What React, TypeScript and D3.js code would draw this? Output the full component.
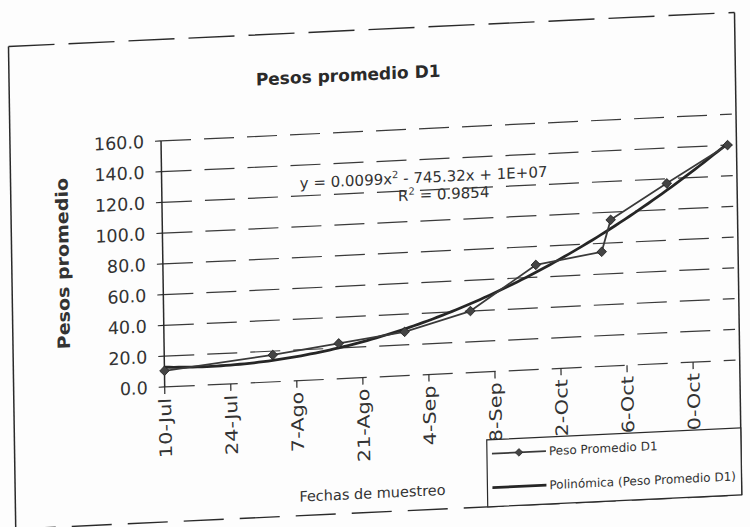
import React from "react";
import * as d3 from "d3";

// ---------- data ----------
const sampleDates = [
  "2003-07-10", "2003-08-02", "2003-08-16", "2003-08-30", "2003-09-13",
  "2003-09-27", "2003-10-11", "2003-10-13", "2003-10-25", "2003-11-07",
];
const pesoPromedio = [10.5, 17.5, 23, 28.5, 40, 68, 74.5, 95, 117, 140];
const xTickLabels = ["10-Jul", "24-Jul", "7-Ago", "21-Ago", "4-Sep", "18-Sep", "2-Oct", "16-Oct", "30-Oct"];
const yTickValues = [0, 20, 40, 60, 80, 100, 120, 140, 160];
const axisStart = "2003-07-10";
const axisEnd = "2003-11-08";
const tickStepDays = 14;

const chartTitle = "Pesos promedio D1";
const yAxisTitle = "Pesos promedio";
const xAxisTitle = "Fechas de muestreo";
const seriesName = "Peso Promedio D1";
const trendName = "Polinómica (Peso Promedio D1)";
const eqParts = ["y = 0.0099x", "2", " - 745.32x + 1E+07"];
const r2Parts = ["R", "2", " = 0.9854"];

// ---------- layout ----------
const W = 750;
const H = 527;
const FONT = "'DejaVu Sans', Arial, sans-serif";
const plot = { left: 163, right: 733.8, top: 131, bottom: 377 };
const frame = { left: 12, right: 738, top: 29.5, bottom: 512 };
const legend = { left: 484, right: 738, top: 445, bottom: 512 };
const ink = "#2a2a2a";

function quadFit(t: number[], v: number[]) {
  const S = [0, 0, 0, 0, 0];
  const T = [0, 0, 0];
  t.forEach((ti, i) => {
    for (let k = 0; k < 5; k++) S[k] += Math.pow(ti, k);
    for (let k = 0; k < 3; k++) T[k] += Math.pow(ti, k) * v[i];
  });
  const A = [
    [S[4], S[3], S[2], T[2]],
    [S[3], S[2], S[1], T[1]],
    [S[2], S[1], S[0], T[0]],
  ];
  for (let c = 0; c < 3; c++) {
    for (let r = c + 1; r < 3; r++) {
      const f = A[r][c] / A[c][c];
      for (let k = c; k < 4; k++) A[r][k] -= f * A[c][k];
    }
  }
  const sol = [0, 0, 0];
  for (let r = 2; r >= 0; r--) {
    let s = A[r][3];
    for (let k = r + 1; k < 3; k++) s -= A[r][k] * sol[k];
    sol[r] = s / A[r][r];
  }
  return sol; // a, b, c
}

export default function App() {
  const parse = d3.timeParse("%Y-%m-%d");
  const start = parse(axisStart) as Date;
  const end = parse(axisEnd) as Date;
  const dates = sampleDates.map((s) => parse(s) as Date);

  const x = d3.scaleTime().domain([start, end]).range([plot.left, plot.right]);
  const y = d3.scaleLinear().domain([0, 160]).range([plot.bottom, plot.top]);

  const tickDates = xTickLabels.map((_, i) => d3.timeDay.offset(start, i * tickStepDays));

  const days = dates.map((d) => d3.timeDay.count(start, d));
  const [a, b, c] = quadFit(days, pesoPromedio);
  const lastDay = days[days.length - 1];
  const trendPts = d3.range(0, lastDay + 0.5, 1).map((t) => [
    x(d3.timeDay.offset(start, t)),
    y(a * t * t + b * t + c),
  ] as [number, number]);

  const line = d3.line<[number, number]>();
  const dataPts = dates.map((d, i) => [x(d), y(pesoPromedio[i])] as [number, number]);
  const marker = d3.symbol().type(d3.symbolSquare).size(46)() as string;

  const skew = "matrix(1,-0.047,0.015,1,-3.945,17.625)";

  return (
    <svg
      width={W}
      height={H}
      viewBox={`0 0 ${W} ${H}`}
      style={{ position: "absolute", left: 0, top: 0, background: "#fff" }}
      fontFamily={FONT}
    >
      <rect x={0} y={0} width={W} height={H} fill="#fdfdfd" />
      <g transform={skew}>
        {/* frame */}
        <line x1={frame.left} x2={frame.right} y1={frame.top} y2={frame.top} stroke={ink} strokeWidth={1.4} strokeDasharray="46 14" />
        <line x1={frame.left} x2={frame.right} y1={frame.bottom} y2={frame.bottom} stroke={ink} strokeWidth={1.4} strokeDasharray="40 16" />
        <line x1={frame.left} x2={frame.left} y1={frame.top} y2={frame.bottom + 20} stroke={ink} strokeWidth={1.5} />
        <line x1={frame.right} x2={frame.right} y1={frame.top} y2={frame.bottom} stroke={ink} strokeWidth={1.5} />

        {/* title */}
        <text x={351} y={80} textAnchor="middle" fontSize={17} fontWeight="bold" fill={ink}>
          {chartTitle}
        </text>

        {/* gridlines */}
        {yTickValues.map((v) => (
          <line
            key={"g" + v}
            x1={plot.left}
            x2={plot.right}
            y1={y(v)}
            y2={y(v)}
            stroke="#3a3a3a"
            strokeWidth={1.2}
            strokeDasharray="30 13"
          />
        ))}

        {/* y axis */}
        <line x1={plot.left} x2={plot.left} y1={plot.top} y2={plot.bottom} stroke={ink} strokeWidth={1.5} />
        {yTickValues.map((v) => (
          <g key={"yt" + v}>
            <line x1={plot.left - 6} x2={plot.left} y1={y(v)} y2={y(v)} stroke={ink} strokeWidth={1.2} />
            <text x={146} y={y(v)} dy="0.36em" textAnchor="end" fontSize={17.5} fill="#333">
              {v.toFixed(1)}
            </text>
          </g>
        ))}
        <text
          transform={`translate(63,249) rotate(-90) scale(1.12,1)`}
          textAnchor="middle"
          dy="0.35em"
          fontSize={17}
          fontWeight="bold"
          fill="#333"
        >
          {yAxisTitle}
        </text>

        {/* x ticks and labels */}
        {tickDates.map((d, i) => (
          <g key={"xt" + i}>
            <line x1={x(d)} x2={x(d)} y1={plot.bottom} y2={plot.bottom + 7} stroke={ink} strokeWidth={1.2} />
            <text
              transform={`translate(${x(d)},388) rotate(-90) scale(1.22,1)`}
              textAnchor="end"
              dy="0.36em"
              fontSize={17}
              fill="#333"
            >
              {xTickLabels[i]}
            </text>
          </g>
        ))}
        <text x={369} y={498} textAnchor="middle" fontSize={14.5} fill="#333">
          {xAxisTitle}
        </text>

        {/* trend line */}
        <path d={line(trendPts) as string} fill="none" stroke="#262626" strokeWidth={2.8} strokeLinejoin="round" />
        {/* data line */}
        <path d={line(dataPts) as string} fill="none" stroke="#3a3a3a" strokeWidth={1.8} strokeLinejoin="round" />
        {dataPts.map(([px, py], i) => (
          <path key={"m" + i} d={marker} transform={`translate(${px},${py}) rotate(45)`} fill="#444" stroke="#222" strokeWidth={0.8} />
        ))}

        {/* equation */}
        <text x={301} y={185} fontSize={15} fill="#333">
          {eqParts[0]}
          <tspan fontSize={10} dy={-6}>{eqParts[1]}</tspan>
          <tspan dy={6}>{eqParts[2]}</tspan>
        </text>
        <text x={399} y={202.5} fontSize={15} fill="#333">
          {r2Parts[0]}
          <tspan fontSize={10} dy={-6}>{r2Parts[1]}</tspan>
          <tspan dy={6}>{r2Parts[2]}</tspan>
        </text>

        {/* legend */}
        <rect
          x={legend.left}
          y={legend.top}
          width={legend.right - legend.left}
          height={legend.bottom - legend.top}
          fill="#fdfdfd"
          stroke={ink}
          strokeWidth={1.2}
        />
        <line x1={489} x2={543} y1={459} y2={459} stroke="#3a3a3a" strokeWidth={1.8} />
        <path d={marker} transform="translate(516,459) rotate(45) scale(0.8)" fill="#444" stroke="#222" strokeWidth={0.8} />
        <text x={546} y={459} dy="0.35em" fontSize={12} fill="#333">
          {seriesName}
        </text>
        <line x1={489} x2={543} y1={493} y2={493} stroke="#262626" strokeWidth={2.8} />
        <text x={546} y={493} dy="0.35em" fontSize={12} fill="#333">
          {trendName}
        </text>
      </g>
    </svg>
  );
}
